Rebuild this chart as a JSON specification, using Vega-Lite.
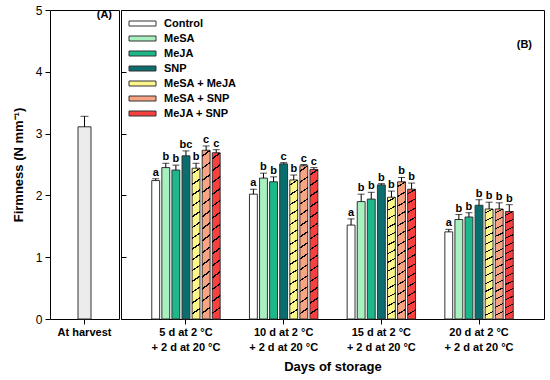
{
  "$schema": "https://vega.github.io/schema/vega-lite/v6.json",
  "padding": {"left": 11, "top": 3, "right": 5, "bottom": 5},
  "spacing": 0,
  "config": {
    "font": "Liberation Sans",
    "view": {"stroke": "#000", "strokeWidth": 1},
    "axis": {"labelFont": "Liberation Sans", "titleFont": "Liberation Sans", "labelColor": "#000", "titleColor": "#000", "tickColor": "#000", "domainColor": "#000", "grid": false},
    "title": {"font": "Liberation Sans", "fontSize": 11, "fontWeight": "bold", "color": "#000"}
  },
  "hconcat": [
    {
      "width": 69,
      "height": 309,
      "title": {"text": "(A)", "anchor": "end", "offset": -16, "dx": -7},
      "data": {"values": [{"g": "At harvest", "v": 3.11, "hi": 3.28}]},
      "encoding": {
        "x": {"field": "g", "type": "nominal", "axis": {"title": null, "labelAngle": 0, "labelFontSize": 11, "labelFontWeight": "bold", "tickSize": 5, "labelPadding": 2, "domain": false}}
      },
      "layer": [
        {
          "mark": {"type": "bar", "width": 13, "fill": "#ececec", "stroke": "#333", "strokeWidth": 1},
          "encoding": {
            "y": {"field": "v", "type": "quantitative", "scale": {"domain": [0, 5]}, "axis": {"title": "Firmness (N mm⁻¹)", "format": "d", "titleFontSize": 13, "titleFontWeight": "bold", "labelFontSize": 12, "labelFontWeight": "normal", "values": [0, 1, 2, 3, 4, 5], "tickSize": 5, "labelPadding": 3, "titlePadding": 10, "domain": false}}
          }
        },
        {
          "mark": {"type": "rule", "color": "#000", "strokeWidth": 1},
          "encoding": {"y": {"field": "v", "type": "quantitative"}, "y2": {"field": "hi"}}
        },
        {
          "mark": {"type": "tick", "color": "#000", "size": 8, "thickness": 1},
          "encoding": {"y": {"field": "hi", "type": "quantitative"}}
        }
      ]
    },
    {
      "width": 423,
      "height": 309,
      "title": {"text": "(B)", "anchor": "end", "offset": -40, "dx": -12},
      "data": {"values": [
        {"g": "5 d at 2 °C|+ 2 d at 20 °C", "t": "Control", "v": 2.24, "hi": 2.27, "lab": "a"},
        {"g": "5 d at 2 °C|+ 2 d at 20 °C", "t": "MeSA", "v": 2.45, "hi": 2.52, "lab": "b"},
        {"g": "5 d at 2 °C|+ 2 d at 20 °C", "t": "MeJA", "v": 2.41, "hi": 2.49, "lab": "b"},
        {"g": "5 d at 2 °C|+ 2 d at 20 °C", "t": "SNP", "v": 2.64, "hi": 2.72, "lab": "bc"},
        {"g": "5 d at 2 °C|+ 2 d at 20 °C", "t": "MeSA + MeJA", "v": 2.44, "hi": 2.52, "lab": "b"},
        {"g": "5 d at 2 °C|+ 2 d at 20 °C", "t": "MeSA + SNP", "v": 2.73, "hi": 2.80, "lab": "c"},
        {"g": "5 d at 2 °C|+ 2 d at 20 °C", "t": "MeJA + SNP", "v": 2.69, "hi": 2.74, "lab": "c"},
        {"g": "10 d at 2 °C|+ 2 d at 20 °C", "t": "Control", "v": 2.02, "hi": 2.10, "lab": "a"},
        {"g": "10 d at 2 °C|+ 2 d at 20 °C", "t": "MeSA", "v": 2.28, "hi": 2.36, "lab": "b"},
        {"g": "10 d at 2 °C|+ 2 d at 20 °C", "t": "MeJA", "v": 2.22, "hi": 2.30, "lab": "b"},
        {"g": "10 d at 2 °C|+ 2 d at 20 °C", "t": "SNP", "v": 2.51, "hi": 2.53, "lab": "c"},
        {"g": "10 d at 2 °C|+ 2 d at 20 °C", "t": "MeSA + MeJA", "v": 2.25, "hi": 2.33, "lab": "b"},
        {"g": "10 d at 2 °C|+ 2 d at 20 °C", "t": "MeSA + SNP", "v": 2.48, "hi": 2.50, "lab": "c"},
        {"g": "10 d at 2 °C|+ 2 d at 20 °C", "t": "MeJA + SNP", "v": 2.42, "hi": 2.45, "lab": "c"},
        {"g": "15 d at 2 °C|+ 2 d at 20 °C", "t": "Control", "v": 1.52, "hi": 1.62, "lab": "a"},
        {"g": "15 d at 2 °C|+ 2 d at 20 °C", "t": "MeSA", "v": 1.90, "hi": 2.02, "lab": "b"},
        {"g": "15 d at 2 °C|+ 2 d at 20 °C", "t": "MeJA", "v": 1.94, "hi": 2.05, "lab": "b"},
        {"g": "15 d at 2 °C|+ 2 d at 20 °C", "t": "SNP", "v": 2.17, "hi": 2.19, "lab": "b"},
        {"g": "15 d at 2 °C|+ 2 d at 20 °C", "t": "MeSA + MeJA", "v": 1.97, "hi": 2.07, "lab": "b"},
        {"g": "15 d at 2 °C|+ 2 d at 20 °C", "t": "MeSA + SNP", "v": 2.22, "hi": 2.29, "lab": "b"},
        {"g": "15 d at 2 °C|+ 2 d at 20 °C", "t": "MeJA + SNP", "v": 2.10, "hi": 2.20, "lab": "b"},
        {"g": "20 d at 2 °C|+ 2 d at 20 °C", "t": "Control", "v": 1.41, "hi": 1.45, "lab": "a"},
        {"g": "20 d at 2 °C|+ 2 d at 20 °C", "t": "MeSA", "v": 1.61, "hi": 1.69, "lab": "b"},
        {"g": "20 d at 2 °C|+ 2 d at 20 °C", "t": "MeJA", "v": 1.65, "hi": 1.72, "lab": "b"},
        {"g": "20 d at 2 °C|+ 2 d at 20 °C", "t": "SNP", "v": 1.84, "hi": 1.93, "lab": "b"},
        {"g": "20 d at 2 °C|+ 2 d at 20 °C", "t": "MeSA + MeJA", "v": 1.78, "hi": 1.89, "lab": "b"},
        {"g": "20 d at 2 °C|+ 2 d at 20 °C", "t": "MeSA + SNP", "v": 1.78, "hi": 1.88, "lab": "b"},
        {"g": "20 d at 2 °C|+ 2 d at 20 °C", "t": "MeJA + SNP", "v": 1.74, "hi": 1.85, "lab": "b"}
      ]},
      "encoding": {
        "x": {"field": "g", "type": "nominal",
          "sort": ["5 d at 2 °C|+ 2 d at 20 °C", "10 d at 2 °C|+ 2 d at 20 °C", "15 d at 2 °C|+ 2 d at 20 °C", "20 d at 2 °C|+ 2 d at 20 °C"],
          "scale": {"paddingInner": 0.3, "paddingOuter": 0.315},
          "axis": {"title": "Days of storage", "titleFontSize": 13, "titleFontWeight": "bold", "titlePadding": 8, "labelExpr": "split(datum.label, '|')", "labelAngle": 0, "labelFontSize": 11, "labelFontWeight": "bold", "labelLineHeight": 15, "labelPadding": 2, "tickSize": 5, "domain": false}},
        "xOffset": {"field": "t", "type": "nominal",
          "sort": ["Control", "MeSA", "MeJA", "SNP", "MeSA + MeJA", "MeSA + SNP", "MeJA + SNP"],
          "scale": {"paddingInner": 0.22}}
      },
      "layer": [
        {
          "mark": {"type": "bar", "stroke": "#333", "strokeWidth": 1},
          "encoding": {
            "y": {"field": "v", "type": "quantitative", "scale": {"domain": [0, 5]}, "axis": {"title": null, "labels": false, "values": [0, 1, 2, 3, 4, 5], "tickSize": -5, "domain": false}},
            "color": {"field": "t", "type": "nominal",
              "scale": {"domain": ["Control", "MeSA", "MeJA", "SNP", "MeSA + MeJA", "MeSA + SNP", "MeJA + SNP"],
                        "range": ["#ffffff", "#a8f0c0", "#1cb88a", "#0b6e6e", "#fbf58a", "#f8a382", "#f8413e"]},
              "legend": {"title": null, "orient": "none", "legendX": 87, "legendY": 8, "labelFontSize": 11, "labelFontWeight": "bold", "labelColor": "#000", "symbolType": "M-2.7,-0.5H2.7V0.5H-2.7Z", "symbolSize": 100, "symbolStrokeColor": "#333", "symbolStrokeWidth": 1, "symbolOpacity": 1, "rowPadding": 3, "labelOffset": 16,
                "encode": {"symbols": {"update": {
                  "stroke": {"value": "#333"},
                  "strokeWidth": {"value": 1},
                  "opacity": {"value": 1},
                  "fill": {"signal": "indexof(['MeSA + MeJA','MeSA + SNP','MeJA + SNP'], datum.value) >= 0 ? {gradient: 'linear', x1: 0, y1: 0, x2: 1, y2: 0.25, stops: [{offset: 0, color: (datum.value === 'MeSA + MeJA' ? '#fbf58a' : datum.value === 'MeSA + SNP' ? '#f8a382' : '#f8413e')}, {offset: 0.27, color: (datum.value === 'MeSA + MeJA' ? '#fbf58a' : datum.value === 'MeSA + SNP' ? '#f8a382' : '#f8413e')}, {offset: 0.27, color: '#000'}, {offset: 0.32, color: '#000'}, {offset: 0.32, color: (datum.value === 'MeSA + MeJA' ? '#fbf58a' : datum.value === 'MeSA + SNP' ? '#f8a382' : '#f8413e')}, {offset: 0.57, color: (datum.value === 'MeSA + MeJA' ? '#fbf58a' : datum.value === 'MeSA + SNP' ? '#f8a382' : '#f8413e')}, {offset: 0.57, color: '#000'}, {offset: 0.62, color: '#000'}, {offset: 0.62, color: (datum.value === 'MeSA + MeJA' ? '#fbf58a' : datum.value === 'MeSA + SNP' ? '#f8a382' : '#f8413e')}, {offset: 0.87, color: (datum.value === 'MeSA + MeJA' ? '#fbf58a' : datum.value === 'MeSA + SNP' ? '#f8a382' : '#f8413e')}, {offset: 0.87, color: '#000'}, {offset: 0.92, color: '#000'}, {offset: 0.92, color: (datum.value === 'MeSA + MeJA' ? '#fbf58a' : datum.value === 'MeSA + SNP' ? '#f8a382' : '#f8413e')}, {offset: 1, color: (datum.value === 'MeSA + MeJA' ? '#fbf58a' : datum.value === 'MeSA + SNP' ? '#f8a382' : '#f8413e')}]} : (datum.value === 'Control' ? '#ffffff' : datum.value === 'MeSA' ? '#a8f0c0' : datum.value === 'MeJA' ? '#1cb88a' : '#0b6e6e')"}}}}}}
          }
        },
        {
          "transform": [{"filter": {"field": "t", "oneOf": ["MeSA + MeJA", "MeSA + SNP", "MeJA + SNP"]}}],
          "mark": {"type": "bar", "strokeWidth": 0, "fill": {"gradient": "linear", "x1": 0, "y1": 0, "x2": 0.035, "y2": 1, "stops": [
            {"offset": 0, "color": "rgba(0,0,0,0)"},
            {"offset": 0.0307, "color": "rgba(0,0,0,0)"}, {"offset": 0.0307, "color": "#000"}, {"offset": 0.0407, "color": "#000"}, {"offset": 0.0407, "color": "rgba(0,0,0,0)"},
            {"offset": 0.1021, "color": "rgba(0,0,0,0)"}, {"offset": 0.1021, "color": "#000"}, {"offset": 0.1121, "color": "#000"}, {"offset": 0.1121, "color": "rgba(0,0,0,0)"},
            {"offset": 0.1736, "color": "rgba(0,0,0,0)"}, {"offset": 0.1736, "color": "#000"}, {"offset": 0.1836, "color": "#000"}, {"offset": 0.1836, "color": "rgba(0,0,0,0)"},
            {"offset": 0.2450, "color": "rgba(0,0,0,0)"}, {"offset": 0.2450, "color": "#000"}, {"offset": 0.2550, "color": "#000"}, {"offset": 0.2550, "color": "rgba(0,0,0,0)"},
            {"offset": 0.3164, "color": "rgba(0,0,0,0)"}, {"offset": 0.3164, "color": "#000"}, {"offset": 0.3264, "color": "#000"}, {"offset": 0.3264, "color": "rgba(0,0,0,0)"},
            {"offset": 0.3879, "color": "rgba(0,0,0,0)"}, {"offset": 0.3879, "color": "#000"}, {"offset": 0.3979, "color": "#000"}, {"offset": 0.3979, "color": "rgba(0,0,0,0)"},
            {"offset": 0.4593, "color": "rgba(0,0,0,0)"}, {"offset": 0.4593, "color": "#000"}, {"offset": 0.4693, "color": "#000"}, {"offset": 0.4693, "color": "rgba(0,0,0,0)"},
            {"offset": 0.5307, "color": "rgba(0,0,0,0)"}, {"offset": 0.5307, "color": "#000"}, {"offset": 0.5407, "color": "#000"}, {"offset": 0.5407, "color": "rgba(0,0,0,0)"},
            {"offset": 0.6021, "color": "rgba(0,0,0,0)"}, {"offset": 0.6021, "color": "#000"}, {"offset": 0.6121, "color": "#000"}, {"offset": 0.6121, "color": "rgba(0,0,0,0)"},
            {"offset": 0.6736, "color": "rgba(0,0,0,0)"}, {"offset": 0.6736, "color": "#000"}, {"offset": 0.6836, "color": "#000"}, {"offset": 0.6836, "color": "rgba(0,0,0,0)"},
            {"offset": 0.7450, "color": "rgba(0,0,0,0)"}, {"offset": 0.7450, "color": "#000"}, {"offset": 0.7550, "color": "#000"}, {"offset": 0.7550, "color": "rgba(0,0,0,0)"},
            {"offset": 0.8164, "color": "rgba(0,0,0,0)"}, {"offset": 0.8164, "color": "#000"}, {"offset": 0.8264, "color": "#000"}, {"offset": 0.8264, "color": "rgba(0,0,0,0)"},
            {"offset": 0.8879, "color": "rgba(0,0,0,0)"}, {"offset": 0.8879, "color": "#000"}, {"offset": 0.8979, "color": "#000"}, {"offset": 0.8979, "color": "rgba(0,0,0,0)"},
            {"offset": 0.9593, "color": "rgba(0,0,0,0)"}, {"offset": 0.9593, "color": "#000"}, {"offset": 0.9693, "color": "#000"}, {"offset": 0.9693, "color": "rgba(0,0,0,0)"},
            {"offset": 1, "color": "rgba(0,0,0,0)"}
          ]}},
          "encoding": {"y": {"field": "v", "type": "quantitative"}}
        },
        {
          "mark": {"type": "rule", "color": "#000", "strokeWidth": 1},
          "encoding": {"y": {"field": "v", "type": "quantitative"}, "y2": {"field": "hi"}}
        },
        {
          "mark": {"type": "tick", "color": "#000", "size": 7, "thickness": 1},
          "encoding": {"y": {"field": "hi", "type": "quantitative"}}
        },
        {
          "mark": {"type": "text", "baseline": "bottom", "dy": -1, "fontSize": 11, "fontWeight": "bold", "color": "#000"},
          "encoding": {"y": {"field": "hi", "type": "quantitative"}, "text": {"field": "lab"}}
        }
      ]
    }
  ]
}
